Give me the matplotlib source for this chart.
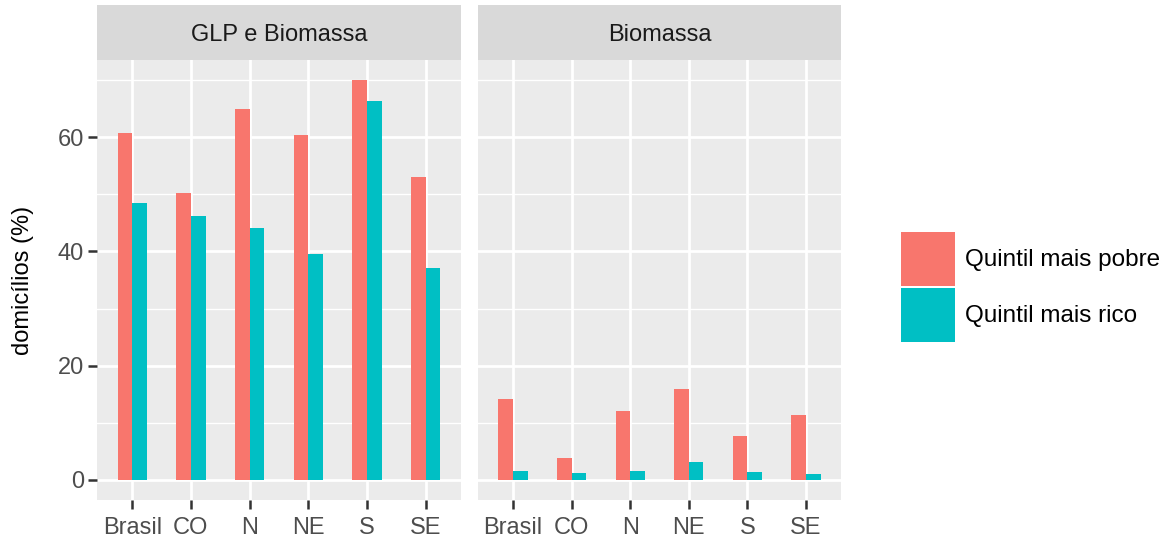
import matplotlib.pyplot as plt
import numpy as np
from matplotlib.patches import Patch

plt.rcParams['font.family'] = ['Liberation Sans', 'DejaVu Sans']

regions = ["Brasil", "CO", "N", "NE", "S", "SE"]
panels = ["GLP e Biomassa", "Biomassa"]
series = ["Quintil mais pobre", "Quintil mais rico"]
colors = ["#F8766D", "#00BFC4"]

glp_pobre = [60.8, 50.2, 64.9, 60.3, 70.0, 53.0]
glp_rico = [48.5, 46.2, 44.1, 39.6, 66.4, 37.1]
bio_pobre = [14.2, 3.8, 12.1, 15.9, 7.7, 11.4]
bio_rico = [1.6, 1.2, 1.6, 3.1, 1.45, 1.05]

data = {
    "GLP e Biomassa": [glp_pobre, glp_rico],
    "Biomassa": [bio_pobre, bio_rico],
}

W, H = 1170, 546
fig = plt.figure(figsize=(W / 100, H / 100), dpi=100)


def px_axes(x0, y0, x1, y1):
    return fig.add_axes([x0 / W, 1 - y1 / H, (x1 - x0) / W, (y1 - y0) / H])


panel_x = [(97, 461), (478, 841)]
x = np.arange(1, len(regions) + 1)
bw = 0.25
fs = 17

for k, (name, (x0, x1)) in enumerate(zip(panels, panel_x)):
    ax = px_axes(x0, 60, x1, 500)
    ax.set_facecolor("#EBEBEB")
    for s in ax.spines.values():
        s.set_visible(False)
    vals = data[name]
    for j in range(2):
        ax.bar(x + (j - 0.5) * bw, vals[j], width=bw, color=colors[j], zorder=3)
    ax.set_xlim(0.4, 6.6)
    ax.set_ylim(-3.5, 73.5)
    ax.set_yticks([0, 20, 40, 60])
    ax.set_yticks([10, 30, 50, 70], minor=True)
    ax.set_xticks(x)
    ax.set_xticklabels(regions)
    ax.grid(True, which="major", color="white", linewidth=2.0, zorder=1)
    ax.grid(True, which="minor", axis="y", color="white", linewidth=1.0, zorder=1)
    ax.tick_params(axis="both", which="major", colors="#333333", length=6.5,
                   width=1.8, labelsize=fs, labelcolor="#4D4D4D", pad=6)
    ax.tick_params(axis="y", which="major", pad=3)
    ax.tick_params(axis="y", which="minor", length=0)
    if k == 0:
        ax.set_ylabel("domicílios (%)", fontsize=fs, labelpad=17)
    else:
        ax.tick_params(axis="y", which="major", length=0, labelleft=False)

    sx = px_axes(x0, 5, x1, 60)
    sx.set_facecolor("#D9D9D9")
    sx.set_xticks([])
    sx.set_yticks([])
    for s in sx.spines.values():
        s.set_visible(False)
    sx.text(0.5, 0.46, name, ha="center", va="center", fontsize=fs,
            color="#1A1A1A", transform=sx.transAxes)

lfs = 17.5
kw = 54 / (lfs * 100 / 72)
kh = (kw - 0.245) / 0.65
handles = [Patch(facecolor=c, edgecolor="none") for c in colors]
fig.legend(handles, series, loc="upper left", bbox_to_anchor=(901 / W, 1 - 232 / H),
           frameon=False, fontsize=lfs, handlelength=kw, handleheight=kh,
           labelspacing=0.08, handletextpad=0.4, borderaxespad=0, borderpad=0)

fig.savefig("out.png", dpi=100)
